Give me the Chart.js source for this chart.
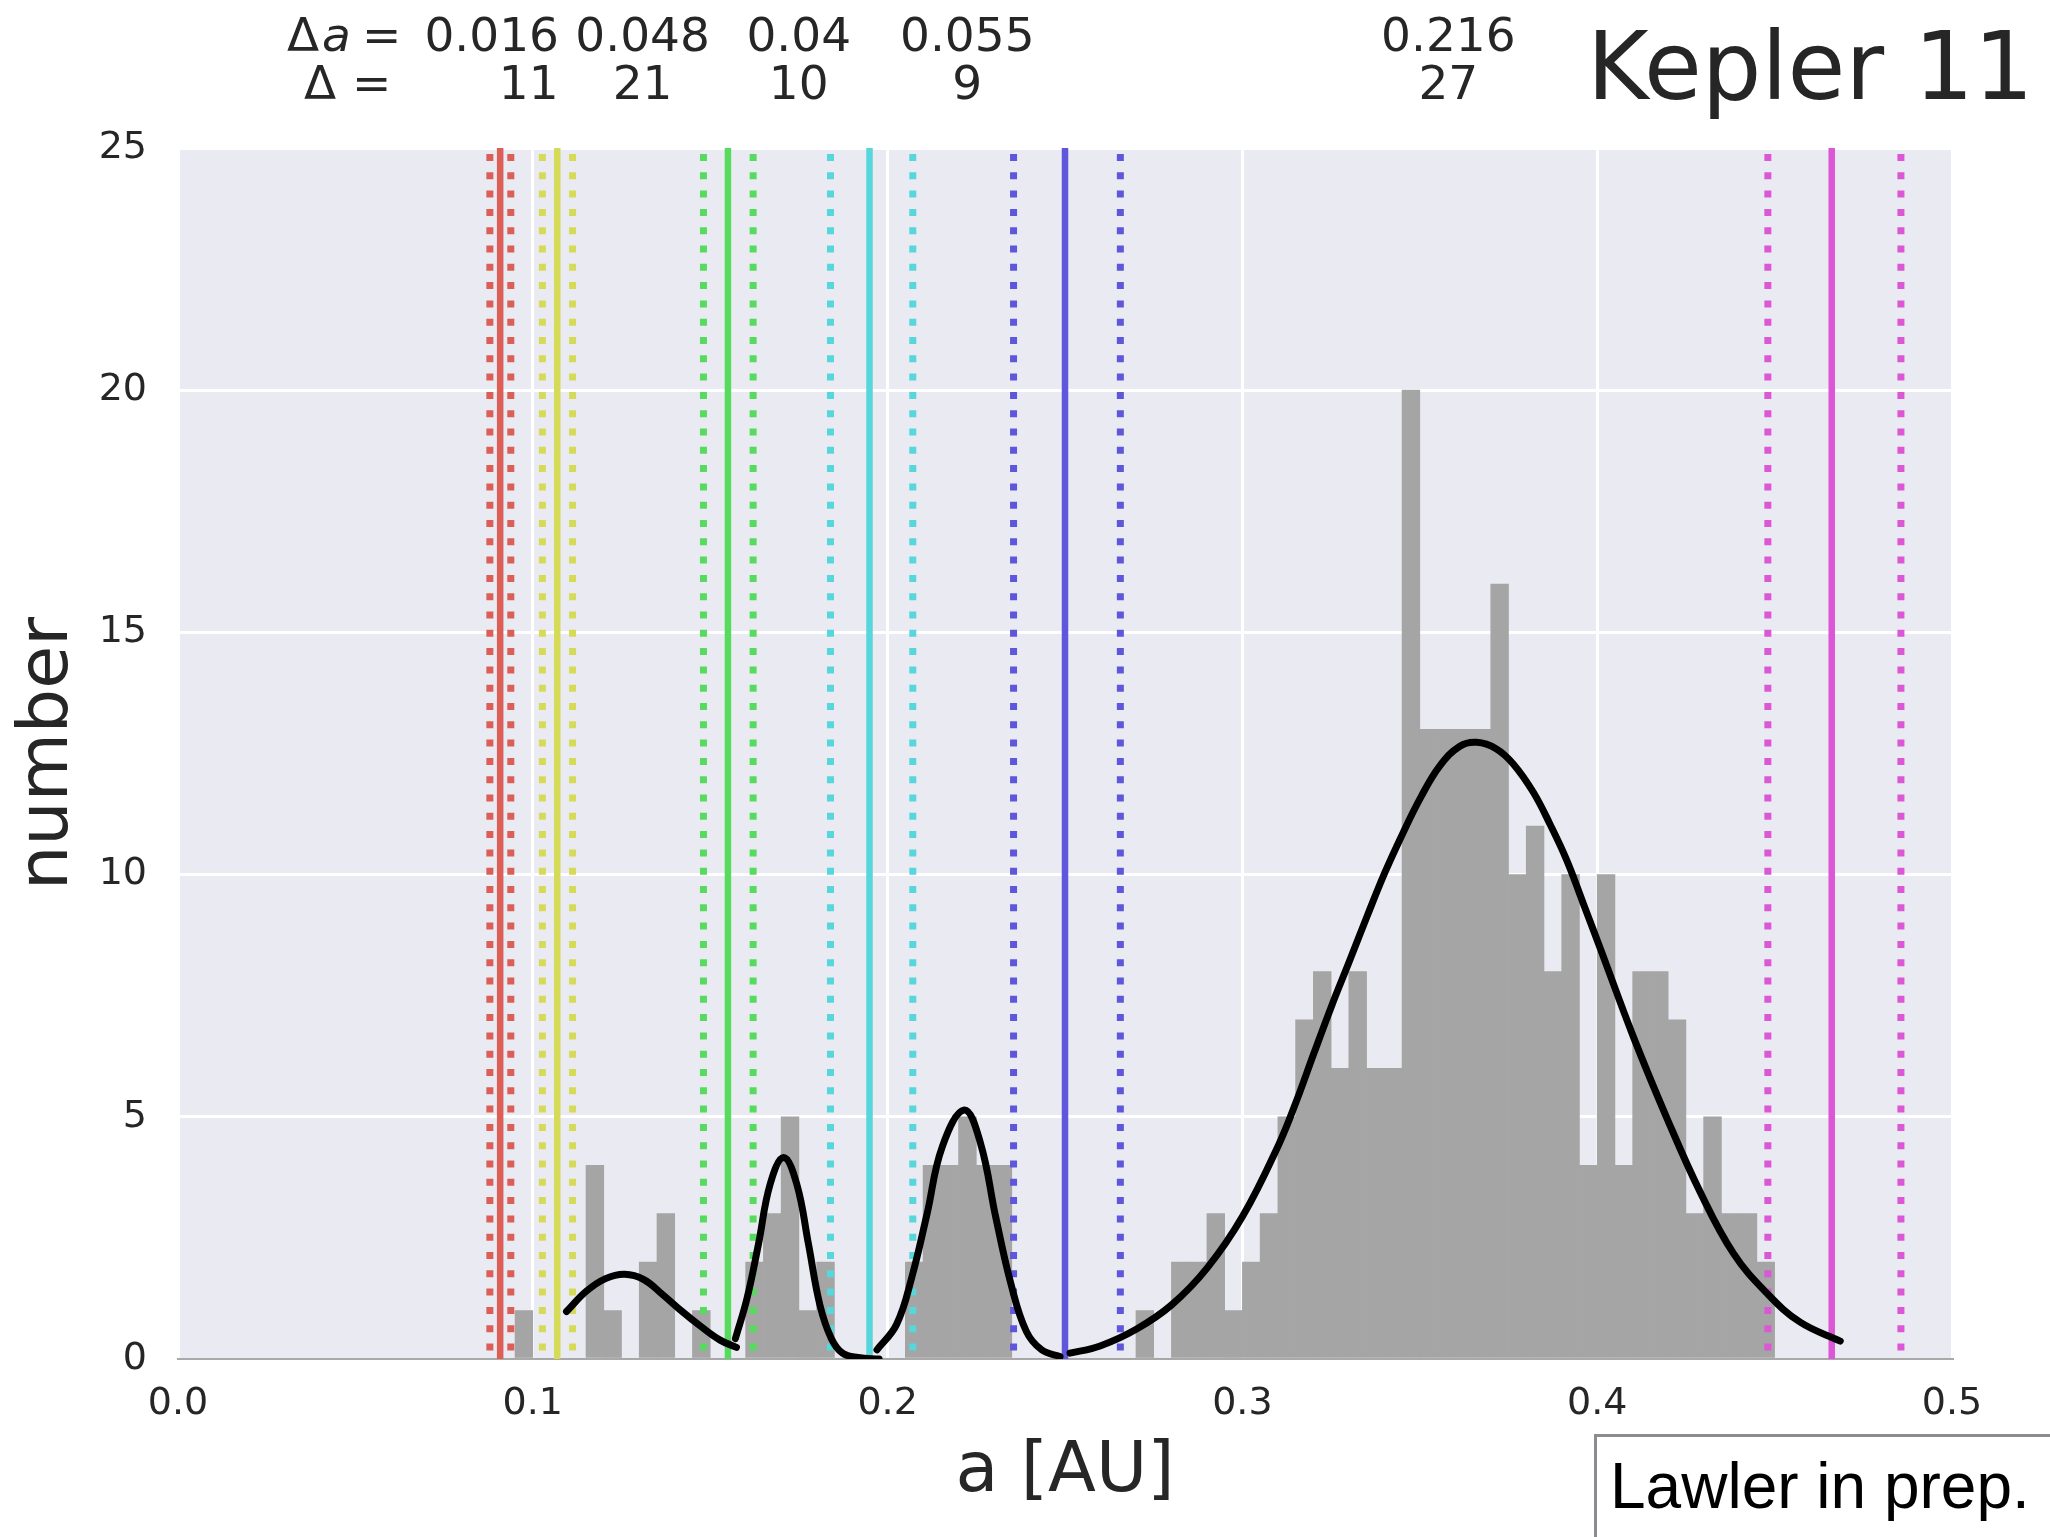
<!DOCTYPE html>
<html lang="en">
<head>
    <meta charset="UTF-8">
    <title>Kepler 11</title>
    <style>
        html, body {
            margin: 0;
            padding: 0;
            background-color: white;
        }
        canvas {
            display: block;
        }
    </style>
    <script src="https://cdn.jsdelivr.net/npm/chart.js"></script>
</head>
<body>
    <canvas id="keplerChart" width="2050" height="1537"></canvas>

    <script>
        // histogram, bins of 0.005 AU starting at 0.095 AU
        const binStart = 0.095;
        const binWidth = 0.005;
        const counts = [
            1, 0, 0, 0, 4, 1, 0, 2, 3, 0,      // 0.095 - 0.140
            1, 0, 0, 2, 3, 5, 1, 2, 0, 0,      // 0.145 - 0.190
            0, 0, 2, 4, 4, 5, 4, 4, 0, 0,      // 0.195 - 0.240
            0, 0, 0, 0, 0, 1, 0, 2, 2, 3,      // 0.245 - 0.290
            1, 2, 3, 5, 7, 8, 6, 8, 6, 6,      // 0.295 - 0.340
            20, 13, 13, 13, 13, 16, 10, 11, 8, 10, // 0.345 - 0.390
            4, 10, 4, 8, 8, 7, 3, 5, 3, 3,     // 0.395 - 0.440
            2                                  // 0.445
        ];

        // planets b..g : semi-major axis and the dotted limits around them
        const planetNames = ['b', 'c', 'd', 'e', 'f', 'g'];
        const planetA  = [0.0908, 0.1069, 0.155, 0.1949, 0.250, 0.4661];
        const limitLo  = [0.0879, 0.1027, 0.1481, 0.1839, 0.2355, 0.4481];
        const limitHi  = [0.0938, 0.1112, 0.1621, 0.2071, 0.2656, 0.4856];
        const planetColors = ['#db5f57', '#d6db57', '#57db5f', '#57d6db', '#5f57db', '#db57d6'];

        // spacing labels above the plot
        const gapDa = ['0.016', '0.048', '0.04', '0.055', '0.216'];
        const gapN  = ['11', '21', '10', '9', '27'];

        // black density curves
        const kde1A = [0.1095, 0.1151, 0.1205, 0.1259, 0.1313, 0.1366, 0.1421, 0.1474, 0.1528, 0.1574];
        const kde1N = [0.98, 1.40, 1.66, 1.75, 1.64, 1.33, 0.98, 0.67, 0.39, 0.24];

        const kde2A = [0.1571, 0.1604, 0.1636, 0.1669, 0.1707, 0.1744, 0.1777, 0.1809, 0.1841, 0.1873, 0.1917, 0.1976];
        const kde2N = [0.42, 1.26, 2.37, 3.61, 4.16, 3.61, 2.37, 1.12, 0.43, 0.12, 0.03, 0.0];

        const kde3A = [0.197, 0.2025, 0.2068, 0.2111, 0.2154, 0.2216, 0.2262, 0.2305, 0.2348, 0.2391, 0.2434, 0.2486];
        const kde3N = [0.19, 0.71, 1.68, 2.99, 4.38, 5.14, 4.45, 2.92, 1.54, 0.57, 0.19, 0.05];

        const kde4A = [0.2514, 0.2599, 0.2702, 0.2801, 0.2901, 0.3001, 0.3102, 0.3151, 0.3201, 0.3252,
                       0.3301, 0.3352, 0.3402, 0.3452, 0.3503, 0.3557, 0.3613, 0.3660, 0.3715, 0.3764,
                       0.3820, 0.3867, 0.3914, 0.3961, 0.4008, 0.4102, 0.4196, 0.4290, 0.4384, 0.4478,
                       0.4572, 0.4685];
        const kde4N = [0.12, 0.27, 0.62, 1.12, 1.88, 2.95, 4.42, 5.30, 6.30, 7.30,
                       8.20, 9.15, 10.05, 10.85, 11.60, 12.25, 12.65, 12.73, 12.60, 12.28,
                       11.70, 11.04, 10.30, 9.40, 8.49, 6.65, 4.98, 3.45, 2.18, 1.36,
                       0.76, 0.37];

        const textColor = '#262626';
        const fontFamily = '"DejaVu Sans", "Liberation Sans", sans-serif';

        function xy(as, ns) {
            return as.map((a, i) => ({ x: a, y: ns[i] }));
        }

        const datasets = [];

        datasets.push({
            type: 'bar',
            data: counts.map((c, i) => ({ x: binStart + binWidth * (i + 0.5), y: c })),
            backgroundColor: '#a5a5a5',
            borderWidth: 0,
            barPercentage: 1.0,
            categoryPercentage: 1.0,
            order: 3
        });

        planetA.forEach((a, i) => {
            datasets.push({
                type: 'line',
                label: planetNames[i],
                data: [{ x: a, y: 25 }, { x: a, y: 0 }],
                borderColor: planetColors[i],
                borderWidth: 6.5,
                pointRadius: 0,
                order: 2
            });
            [limitLo[i], limitHi[i]].forEach(d => {
                datasets.push({
                    type: 'line',
                    data: [{ x: d, y: 25 }, { x: d, y: 0 }],
                    borderColor: planetColors[i],
                    borderWidth: 7,
                    borderDash: [7, 11.3],
                    borderDashOffset: -6,
                    pointRadius: 0,
                    order: 2
                });
            });
        });

        [[kde1A, kde1N], [kde2A, kde2N], [kde3A, kde3N], [kde4A, kde4N]].forEach(([as, ns]) => {
            datasets.push({
                type: 'line',
                data: xy(as, ns),
                borderColor: '#000000',
                borderWidth: 7,
                borderCapStyle: 'round',
                borderJoinStyle: 'round',
                tension: 0.4,
                pointRadius: 0,
                order: 1
            });
        });

        // background, labels above the axes and the credit box
        const decor = {
            id: 'decor',
            beforeDraw(chart) {
                const { ctx, chartArea: area } = chart;
                ctx.save();
                ctx.fillStyle = '#eaeaf2';
                ctx.fillRect(area.left, area.top, area.right - area.left, area.bottom - area.top);
                ctx.restore();
            },
            afterDraw(chart) {
                const ctx = chart.ctx;
                const xScale = chart.scales.x;
                ctx.save();
                ctx.fillStyle = textColor;
                ctx.textBaseline = 'alphabetic';

                const small = '47px ' + fontFamily;
                ctx.font = small;
                ctx.textAlign = 'left';
                ctx.fillText('\u0394', 287, 51);
                ctx.font = 'italic ' + small;
                ctx.fillText('a', 322, 51);
                ctx.font = small;
                ctx.fillText('=', 362, 51);
                ctx.fillText('\u0394', 304, 99);
                ctx.fillText('=', 352, 99);

                ctx.textAlign = 'center';
                for (let i = 0; i < gapDa.length; i++) {
                    const px = xScale.getPixelForValue((planetA[i] + planetA[i + 1]) / 2);
                    ctx.fillText(gapDa[i], px + (i === 0 ? -37 : 0), 51);
                    ctx.fillText(gapN[i], px, 99);
                }

                ctx.textAlign = 'left';
                ctx.font = '94px ' + fontFamily;
                ctx.fillText('Kepler 11', 1587, 99);

                // credit box
                ctx.fillStyle = '#ffffff';
                ctx.fillRect(1594, 1434, 470, 120);
                ctx.strokeStyle = '#8a8c90';
                ctx.lineWidth = 3;
                ctx.strokeRect(1595.5, 1435.5, 500, 200);
                ctx.fillStyle = '#000000';
                ctx.font = '64px "Liberation Sans", Arial, sans-serif';
                ctx.fillText('Lawler in prep.', 1610, 1508);
                ctx.restore();
            }
        };

        const ctx = document.getElementById('keplerChart').getContext('2d');
        new Chart(ctx, {
            type: 'bar',
            data: { datasets: datasets },
            options: {
                responsive: false,
                animation: false,
                events: [],
                layout: {
                    padding: { top: 148, right: 98, left: 0, bottom: 0 }
                },
                plugins: {
                    legend: { display: false },
                    tooltip: { enabled: false }
                },
                scales: {
                    x: {
                        type: 'linear',
                        min: 0,
                        max: 0.5,
                        offset: false,
                        grid: { color: '#ffffff', lineWidth: 3, drawTicks: false, offset: false },
                        border: { display: true, color: '#a9a9a9', width: 2 },
                        ticks: {
                            stepSize: 0.1,
                            padding: 22,
                            color: textColor,
                            font: { family: fontFamily, size: 38 },
                            callback: v => v.toFixed(1)
                        },
                        title: {
                            display: true,
                            text: 'a [AU]',
                            color: textColor,
                            font: { family: fontFamily, size: 70 },
                            padding: { top: 0, bottom: 22 }
                        },
                        afterFit(scale) { scale.height = 178; }
                    },
                    y: {
                        min: 0,
                        max: 25,
                        grid: { color: '#ffffff', lineWidth: 3, drawTicks: false },
                        border: { display: false },
                        ticks: {
                            stepSize: 5,
                            padding: 31,
                            color: textColor,
                            font: { family: fontFamily, size: 38 }
                        },
                        title: {
                            display: true,
                            text: 'number',
                            color: textColor,
                            font: { family: fontFamily, size: 70 },
                            padding: { top: 7, bottom: 0 }
                        },
                        afterFit(scale) { scale.width = 178; }
                    }
                }
            },
            plugins: [decor]
        });
    </script>
</body>
</html>
